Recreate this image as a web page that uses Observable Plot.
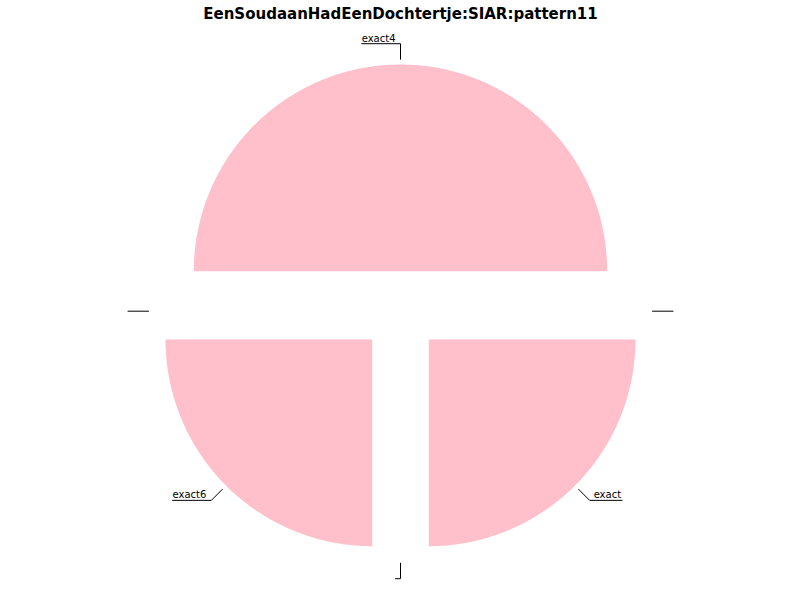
<!DOCTYPE html>
<html><head><meta charset="utf-8">
<script src="https://cdn.jsdelivr.net/npm/d3@7"></script>
<script src="https://cdn.jsdelivr.net/npm/@observablehq/plot@0.6"></script>
<style>body{margin:0;background:#fff;} #chart svg{display:block;}</style>
</head><body><div id="chart"></div>
<script>
// ---- data ----
const chartTitle = "EenSoudaanHadEenDochtertje:SIAR:pattern11";
const categories = ["exact4", "", "exact6", "", "exact", ""];
const values = [2, 0, 1, 0, 1, 0];
const sliceColor = "pink";

// ---- layout (pixels) ----
const W = 800, H = 600;
const Rpx = 206.7;            // pie radius in px
const cx = 400, cy = 310.7;   // pie centre in px
const explode = 40 / Rpx;     // explode distance (radius units)
const leadStart = 252 / Rpx;  // leader start radius
const leadElbow = 267.5 / Rpx;// leader elbow radius
const labelFont = "10px 'DejaVu Sans'";

const ctx = document.createElement("canvas").getContext("2d");
ctx.font = labelFont;
const tw = s => s ? ctx.measureText(s).width : 0;

const total = d3.sum(values);
let cum = 0;
const slices = [], leaders = [], labels = [];
values.forEach((v, i) => {
  const a0 = cum / total * 2 * Math.PI;
  cum += v;
  const a1 = cum / total * 2 * Math.PI;
  const m = (a0 + a1) / 2;
  const ox = explode * Math.cos(m), oy = explode * Math.sin(m);
  if (v > 0) {
    slices.push({id: i, x: ox, y: oy});
    const n = 180;
    for (let k = 0; k <= n; k++) {
      const a = a0 + (a1 - a0) * k / n;
      slices.push({id: i, x: ox + Math.cos(a), y: oy + Math.sin(a)});
    }
    slices.push({id: i, x: ox, y: oy});
  }
  const side = Math.cos(m) > 1e-9 ? 1 : -1;
  const p0 = [leadStart * Math.cos(m), leadStart * Math.sin(m)];
  const p1 = [leadElbow * Math.cos(m), leadElbow * Math.sin(m)];
  const ext = (tw(categories[i]) + 5) / Rpx;
  const p2 = [p1[0] + side * ext, p1[1]];
  leaders.push({id: i, x: p0[0], y: p0[1]}, {id: i, x: p1[0], y: p1[1]}, {id: i, x: p2[0], y: p2[1]});
  if (categories[i]) labels.push({text: categories[i], x: p2[0], y: p2[1], anchor: side > 0 ? "end" : "start"});
});

const xDom = [-cx / Rpx, (W - cx) / Rpx];
const yDom = [cy / Rpx, -(H - cy) / Rpx];

const plot = Plot.plot({
  width: W, height: H,
  margin: 0,
  style: {background: "#fff", fontFamily: "'DejaVu Sans'"},
  x: {axis: null, domain: xDom, range: [0, W]},
  y: {axis: null, domain: yDom, range: [0, H]},
  marks: [
    Plot.line(slices, {x: "x", y: "y", z: "id", fill: sliceColor, stroke: "none", curve: "linear"}),
    Plot.line(leaders, {x: "x", y: "y", z: "id", stroke: "black", strokeWidth: 1}),
    Plot.text(labels.filter(d => d.anchor === "end"), {x: "x", y: "y", text: "text", textAnchor: "end", lineAnchor: "bottom", dx: -1, dy: -2, fontSize: 10, fill: "black"}),
    Plot.text(labels.filter(d => d.anchor === "start"), {x: "x", y: "y", text: "text", textAnchor: "start", lineAnchor: "bottom", dx: 0, dy: -2, fontSize: 10, fill: "black"}),
    Plot.text([chartTitle], {frameAnchor: "top", text: d => d, lineAnchor: "top", dy: 8, fontSize: 15, fontWeight: "bold", fill: "black"})
  ]
});
document.getElementById("chart").appendChild(plot);
</script>
</body></html>
